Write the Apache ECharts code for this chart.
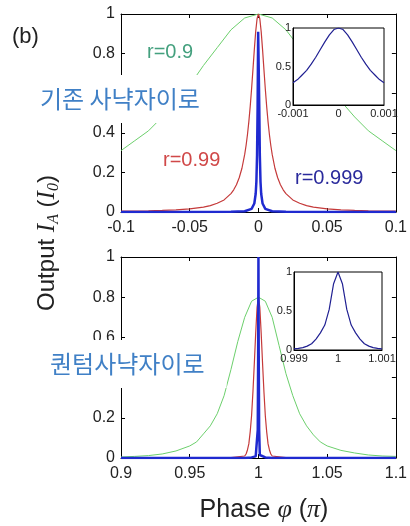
<!DOCTYPE html>
<html>
<head>
<meta charset="utf-8">
<script src="https://cdn.jsdelivr.net/npm/echarts@6/dist/echarts.min.js"></script>
<style>
html,body{margin:0;padding:0;background:#fff;}
#chart{width:410px;height:526px;}
</style>
</head>
<body>
<div id="chart"></div>
<script>
// ---------- data ----------
// top panel: conventional Sagnac, r = 0.9 (green)
const topGreenPhase = [-0.1,-0.09,-0.08,-0.07,-0.06,-0.05,-0.04,-0.03,-0.02,-0.01,0,0.01,0.02,0.03,0.04,0.05,0.06,0.07,0.08,0.09,0.1];
const topGreenOut   = [0.31,0.36,0.41,0.48,0.56,0.64,0.74,0.83,0.92,0.98,1.0,0.98,0.92,0.83,0.74,0.64,0.56,0.48,0.41,0.36,0.31];
// top panel: r = 0.99 (red)
const topRedPhase = [-0.1,-0.09,-0.08,-0.07,-0.06,-0.05,-0.04,-0.035,-0.03,-0.025,-0.02,-0.018,-0.016,-0.014,-0.012,-0.01,-0.009,-0.008,-0.007,-0.006,-0.005,-0.004,-0.003,-0.002,-0.001,0,0.001,0.002,0.003,0.004,0.005,0.006,0.007,0.008,0.009,0.01,0.012,0.014,0.016,0.018,0.02,0.025,0.03,0.035,0.04,0.05,0.06,0.07,0.08,0.09,0.1];
const topRedOut   = [0.004,0.005,0.006,0.008,0.011,0.016,0.025,0.032,0.044,0.061,0.093,0.112,0.138,0.173,0.221,0.291,0.336,0.39,0.455,0.532,0.621,0.719,0.82,0.911,0.976,1.0,0.976,0.911,0.82,0.719,0.621,0.532,0.455,0.39,0.336,0.291,0.221,0.173,0.138,0.112,0.093,0.061,0.044,0.032,0.025,0.016,0.011,0.008,0.006,0.005,0.004];
// top panel: r = 0.999 (blue)
const topBluePhase = [-0.1,-0.05,-0.02,-0.01,-0.005,-0.003,-0.002,-0.0015,-0.001,-0.0006,-0.0002,0.0002,0.0006,0.001,0.0015,0.002,0.003,0.005,0.01,0.02,0.05,0.1];
const topBlueOut   = [0,0,0.001,0.004,0.016,0.043,0.092,0.153,0.289,0.53,0.91,0.91,0.53,0.289,0.153,0.092,0.043,0.016,0.004,0.001,0,0];
// top inset: r = 0.999 zoomed
const topInsetPhase = [-0.001,-0.0009,-0.0008,-0.0007,-0.0006,-0.0005,-0.0004,-0.0003,-0.0002,-0.0001,0,0.0001,0.0002,0.0003,0.0004,0.0005,0.0006,0.0007,0.0008,0.0009,0.001];
const topInsetOut   = [0.29,0.33,0.39,0.45,0.53,0.62,0.72,0.82,0.91,0.98,1.0,0.98,0.91,0.82,0.72,0.62,0.53,0.45,0.39,0.33,0.29];

// bottom panel: quantum Sagnac, green
const botGreenPhase = [0.9,0.91,0.92,0.93,0.94,0.95,0.955,0.96,0.965,0.97,0.975,0.98,0.985,0.99,0.995,1.0,1.005,1.01,1.015,1.02,1.025,1.03,1.035,1.04,1.045,1.05,1.06,1.07,1.08,1.09,1.1];
const botGreenOut   = [0.005,0.008,0.012,0.02,0.035,0.06,0.08,0.12,0.16,0.22,0.31,0.44,0.58,0.70,0.78,0.80,0.78,0.70,0.56,0.42,0.31,0.22,0.16,0.115,0.08,0.06,0.038,0.025,0.015,0.01,0.008];
// bottom panel: red
const botRedPhase = [0.9,0.98,0.99,0.991,0.992,0.993,0.994,0.995,0.996,0.997,0.998,0.999,1.0,1.001,1.002,1.003,1.004,1.005,1.006,1.007,1.008,1.009,1.01,1.02,1.1];
const botRedOut   = [0,0.002,0.01,0.02,0.04,0.07,0.13,0.21,0.33,0.47,0.62,0.75,0.80,0.75,0.62,0.47,0.33,0.21,0.13,0.07,0.04,0.02,0.01,0.002,0];
// bottom panel: blue
const botBluePhase = [0.9,0.99,0.995,0.998,0.999,0.9995,0.9998,1.0,1.0002,1.0005,1.001,1.002,1.005,1.01,1.1];
const botBlueOut   = [0,0,0.003,0.008,0.015,0.14,0.52,1.0,0.52,0.14,0.015,0.008,0.003,0,0];
// bottom inset
const botInsetPhase = [0.999,0.9991,0.9992,0.9993,0.9994,0.9995,0.9996,0.9997,0.9998,0.9999,1.0,1.0001,1.0002,1.0003,1.0004,1.0005,1.0006,1.0007,1.0008,1.0009,1.001];
const botInsetOut   = [0.015,0.02,0.03,0.05,0.08,0.14,0.22,0.32,0.52,0.85,1.0,0.85,0.52,0.32,0.22,0.14,0.08,0.05,0.03,0.02,0.015];

// axis ranges / tick steps
const topXRange = [-0.1, 0.1], topXStep = 0.05;
const botXRange = [0.9, 1.1], botXStep = 0.05;
const mainYRange = [0, 1], mainYStep = 0.2;
const topInsetXRange = [-0.001, 0.001], botInsetXRange = [0.999, 1.001], insetXStep = 0.001;
const insetYRange = [0, 1], insetYStep = 0.5;

// text
const panelLabel = '(b)';
const topTitle = '기존 사냑자이로';
const botTitle = '퀀텀사냑자이로';
const curveLabels = ['r=0.9', 'r=0.99', 'r=0.999'];

// ---------- chart ----------
const SANS = '"Liberation Sans", Arial, sans-serif';
const SERIF = '"Liberation Serif", "Times New Roman", serif';
const zip = (xs, ys) => xs.map((x, i) => [x, ys[i]]);

const GREEN = '#6ccf6c', RED = '#c53a3a', BLUE = '#1f2ad0', NAVY = '#202092';

function xAx(grid, range, step, pos, showLabel, opts) {
  return Object.assign({
    type: 'value', gridIndex: grid, min: range[0], max: range[1], interval: step,
    position: pos,
    axisLine: { show: true, onZero: false, lineStyle: { color: '#000', width: 1 } },
    axisTick: { show: true, inside: true, length: 4, lineStyle: { color: '#000' } },
    axisLabel: { show: showLabel, fontSize: 16, color: '#222', margin: 8, fontFamily: SANS },
    splitLine: { show: false }
  }, opts || {});
}
function yAx(grid, range, step, pos, showLabel, opts) {
  return Object.assign({
    type: 'value', gridIndex: grid, min: range[0], max: range[1], interval: step,
    position: pos,
    axisLine: { show: true, onZero: false, lineStyle: { color: '#000', width: 1 } },
    axisTick: { show: true, inside: true, length: 4, lineStyle: { color: '#000' } },
    axisLabel: { show: showLabel, fontSize: 16, color: '#222', margin: 6, fontFamily: SANS },
    splitLine: { show: false }
  }, opts || {});
}
const insetAxOpts = (margin) => ({
  z: 11,
  axisTick: { show: false },
  axisLabel: { show: true, fontSize: 11, color: '#222', margin: margin, fontFamily: SANS }
});

function line(xi, yi, data, color, width, z) {
  return {
    type: 'line', xAxisIndex: xi, yAxisIndex: yi, data: data,
    showSymbol: false, symbol: 'none', smooth: false, z: z,
    lineStyle: { color: color, width: width }, animation: false
  };
}

const chart = echarts.init(document.getElementById('chart'), null, { renderer: 'canvas' });
chart.setOption({
  backgroundColor: '#fff',
  animation: false,
  grid: [
    { left: 121, top: 14, width: 281, height: 198, show: false },
    { left: 293, top: 28, width: 91, height: 77, show: true, backgroundColor: '#fff', borderColor: '#000', borderWidth: 1, z: 10 },
    { left: 121, top: 257, width: 281, height: 201, show: false },
    { left: 294, top: 272, width: 88, height: 78, show: true, backgroundColor: '#fff', borderColor: '#000', borderWidth: 1, z: 10 }
  ],
  xAxis: [
    xAx(0, topXRange, topXStep, 'bottom', true),
    xAx(0, topXRange, topXStep, 'top', false),
    xAx(1, topInsetXRange, insetXStep, 'bottom', true, insetAxOpts(3)),
    xAx(2, botXRange, botXStep, 'bottom', true),
    xAx(2, botXRange, botXStep, 'top', false),
    xAx(3, botInsetXRange, insetXStep, 'bottom', true, insetAxOpts(3))
  ],
  yAxis: [
    yAx(0, mainYRange, mainYStep, 'left', true),
    yAx(0, mainYRange, mainYStep, 'right', false),
    yAx(1, insetYRange, insetYStep, 'left', true, insetAxOpts(2)),
    yAx(2, mainYRange, mainYStep, 'left', true),
    yAx(2, mainYRange, mainYStep, 'right', false),
    yAx(3, insetYRange, insetYStep, 'left', true, insetAxOpts(2))
  ],
  series: [
    line(0, 0, zip(topGreenPhase, topGreenOut), GREEN, 1, 2),
    line(0, 0, zip(topRedPhase, topRedOut), RED, 1.2, 3),
    line(0, 0, zip(topBluePhase, topBlueOut), BLUE, 2.5, 4),
    line(2, 2, zip(topInsetPhase, topInsetOut), NAVY, 1.2, 12),
    line(3, 3, zip(botGreenPhase, botGreenOut), GREEN, 1, 2),
    line(3, 3, zip(botRedPhase, botRedOut), RED, 1.2, 3),
    line(3, 3, zip(botBluePhase, botBlueOut), BLUE, 2.5, 4),
    line(5, 5, zip(botInsetPhase, botInsetOut), NAVY, 1.2, 12)
  ],
  graphic: [
    { type: 'text', x: 12, y: 37, z: 100,
      style: { text: panelLabel, fontSize: 22, fontFamily: SANS, fill: '#222', verticalAlign: 'middle', textVerticalAlign: 'middle' } },
    { type: 'text', x: 30, y: 99, z: 100,
      style: { text: topTitle, fontSize: 24, fontFamily: '"Noto Sans CJK KR", sans-serif', fill: '#4080c6',
        backgroundColor: '#fff', padding: [12, 22, 12, 10], verticalAlign: 'middle', textVerticalAlign: 'middle' } },
    { type: 'text', x: 30, y: 364, z: 100,
      style: { text: botTitle, fontSize: 24, fontFamily: '"Noto Sans CJK KR", sans-serif', fill: '#4080c6',
        backgroundColor: '#fff', padding: [12, 22, 12, 20], verticalAlign: 'middle', textVerticalAlign: 'middle' } },
    { type: 'text', x: 147, y: 52, z: 100,
      style: { text: curveLabels[0], fontSize: 20, fontFamily: SANS, fill: '#44a07e', verticalAlign: 'middle', textVerticalAlign: 'middle' } },
    { type: 'text', x: 163, y: 160, z: 100,
      style: { text: curveLabels[1], fontSize: 20, fontFamily: SANS, fill: '#d04848', verticalAlign: 'middle', textVerticalAlign: 'middle' } },
    { type: 'text', x: 295, y: 178, z: 100,
      style: { text: curveLabels[2], fontSize: 20, fontFamily: SANS, fill: '#2a2a9c', verticalAlign: 'middle', textVerticalAlign: 'middle' } },
    { type: 'text', x: 47, y: 243, z: 100, rotation: Math.PI / 2,
      style: {
        text: '{a|Output }{b|I}{s|A}{a| (}{b|I}{s|0}{a|)}',
        align: 'center', textAlign: 'center', verticalAlign: 'middle', textVerticalAlign: 'middle',
        fill: '#222',
        rich: {
          a: { fontSize: 24, fontFamily: SANS, lineHeight: 30, verticalAlign: 'middle', fill: '#222' },
          b: { fontSize: 25, fontFamily: SERIF, fontStyle: 'italic', lineHeight: 30, verticalAlign: 'middle', fill: '#222' },
          s: { fontSize: 16, fontFamily: SERIF, fontStyle: 'italic', lineHeight: 30, verticalAlign: 'bottom', fill: '#222' }
        }
      } },
    { type: 'text', x: 264, y: 510, z: 100,
      style: {
        text: '{a|Phase }{b|φ}{a| (}{b|π}{a|)}',
        align: 'center', textAlign: 'center', verticalAlign: 'middle', textVerticalAlign: 'middle',
        fill: '#222',
        rich: {
          a: { fontSize: 25, fontFamily: SANS, verticalAlign: 'middle', fill: '#222' },
          b: { fontSize: 26, fontFamily: SERIF, fontStyle: 'italic', verticalAlign: 'middle', fill: '#222' }
        }
      } }
  ]
});
</script>
</body>
</html>
